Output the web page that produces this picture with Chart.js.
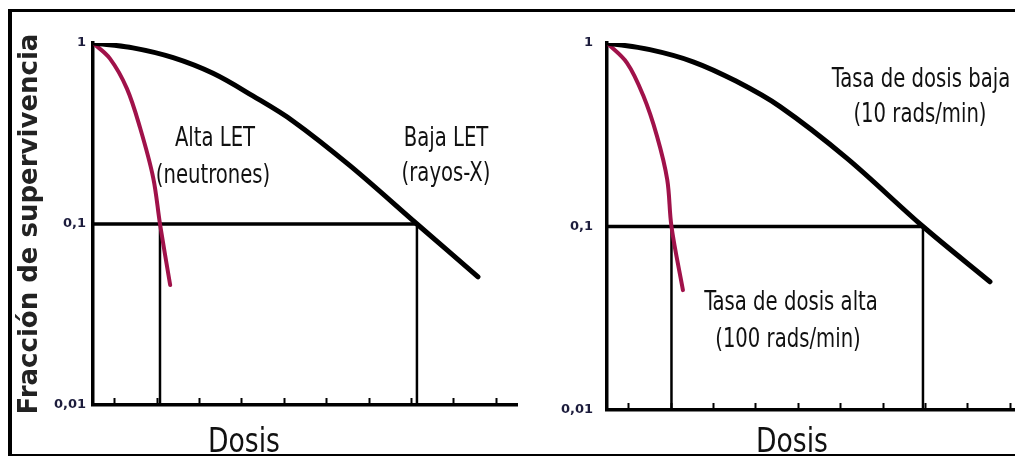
<!DOCTYPE html>
<html>
<head>
<meta charset="utf-8">
<title>Curvas de supervivencia</title>
<script src="https://cdn.jsdelivr.net/npm/chart.js@4.4.1/dist/chart.umd.min.js"></script>
<style>
    body { margin: 0; background: #fff; width: 1015px; height: 457px; overflow: hidden; position: relative; }
    .panel { position: absolute; top: 0; height: 457px; }
    #panel-let { left: 0; width: 540px; }
    #panel-rate { left: 540px; width: 475px; }
    #frame {
        position: absolute; left: 8px; top: 9px; right: 0; bottom: 1px;
        border-left: 4px solid #000; border-top: 3px solid #000; border-bottom: 2px solid #000;
        z-index: 5; pointer-events: none;
    }
    .note {
        position: absolute; z-index: 4; white-space: nowrap; color: #111;
        font-family: 'DejaVu Sans Condensed', 'DejaVu Sans', sans-serif; font-size: 26px;
        transform: translate(-50%, -50%) scaleX(0.84);
    }
    .axis-name { font-size: 34px; transform: translate(-50%, -50%) scaleX(0.87); }
</style>
</head>
<body>
<div id="frame"></div>
<div class="panel" id="panel-let"><canvas id="let-chart" width="540" height="457"></canvas></div>
<div class="panel" id="panel-rate"><canvas id="rate-chart" width="475" height="457"></canvas></div>

<div class="note" style="left:215px; top:137px;">Alta LET</div>
<div class="note" style="left:213px; top:174px;">(neutrones)</div>
<div class="note" style="left:446px; top:137px;">Baja LET</div>
<div class="note" style="left:446px; top:172px;">(rayos-X)</div>
<div class="note" style="left:921px; top:78px;">Tasa de dosis baja</div>
<div class="note" style="left:920px; top:113px;">(10 rads/min)</div>
<div class="note" style="left:791px; top:301px;">Tasa de dosis alta</div>
<div class="note" style="left:788px; top:338px;">(100 rads/min)</div>
<div class="note axis-name" style="left:244px; top:440px;">Dosis</div>
<div class="note axis-name" style="left:792px; top:440px;">Dosis</div>

<script>
// Axis ticks
const doseTicks = [0, 1, 2, 3, 4, 5, 6, 7, 8, 9];
const survivalTicks = [0.01, 0.1, 1];
const survivalTickLabels = ['0,01', '0,1', '1'];

// Left panel - low LET (x-rays) vs high LET (neutrons)
const lowLetDose = [-0.5, 0.44, 1.39, 2.33, 3.27, 4.22, 5.56, 7.14, 8.58];
const lowLetSurvival = [1, 0.94, 0.83, 0.68, 0.51, 0.37, 0.21, 0.1, 0.051];
const highLetDose = [-0.5, -0.1, 0.3, 0.61, 0.92, 1.08, 1.32];
const highLetSurvival = [1, 0.82, 0.56, 0.34, 0.18, 0.1, 0.046];
const letD10 = [1.08, 7.14];

// Right panel - low dose rate vs high dose rate
const lowRateDose = [-0.5, 0.51, 1.53, 2.54, 3.58, 5.16, 6.95, 8.53];
const lowRateSurvival = [1, 0.92, 0.79, 0.62, 0.45, 0.235, 0.1, 0.05];
const highRateDose = [-0.5, -0.03, 0.35, 0.68, 0.92, 1.02, 1.29];
const highRateSurvival = [1, 0.78, 0.52, 0.31, 0.18, 0.1, 0.045];
const rateD10 = [1.02, 6.95];

const CRIMSON = '#a0124a';

// Zip x/y arrays into points
function toPoints(xs, ys) {
    return xs.map((x, i) => ({ x: x, y: ys[i] }));
}

function curve(xs, ys, color, width) {
    return {
        data: toPoints(xs, ys),
        borderColor: color,
        borderWidth: width,
        borderCapStyle: 'round',
        pointRadius: 0,
        tension: 0.35
    };
}

function guide(points, width) {
    return {
        data: points.map(p => ({ x: p[0], y: p[1] })),
        borderColor: '#000',
        borderWidth: width,
        pointRadius: 0,
        tension: 0
    };
}

// Small tick marks pointing up from the dose axis
const innerTicks = {
    id: 'innerTicks',
    afterDatasetsDraw(chart) {
        const scale = chart.scales.x;
        const base = chart.chartArea.bottom;
        const ctx = chart.ctx;
        ctx.save();
        ctx.strokeStyle = '#000';
        ctx.lineWidth = 2;
        doseTicks.forEach(v => {
            if (v > scale.max) return;
            const px = Math.round(scale.getPixelForValue(v)) + 0.5;
            ctx.beginPath();
            ctx.moveTo(px, base);
            ctx.lineTo(px, base - 7);
            ctx.stroke();
        });
        ctx.restore();
    }
};

function buildPanel(canvasId, cfg) {
    return new Chart(document.getElementById(canvasId), {
        type: 'line',
        data: {
            datasets: [
                curve(cfg.lowDose, cfg.lowSurvival, '#000', 5),
                curve(cfg.highDose, cfg.highSurvival, CRIMSON, 4),
                guide([[-0.5, 0.1], [cfg.d10[1], 0.1]], 3.5),
                guide([[cfg.d10[0], 0.01], [cfg.d10[0], 0.1]], 2.5),
                guide([[cfg.d10[1], 0.01], [cfg.d10[1], 0.1]], 2.5)
            ]
        },
        options: {
            responsive: false,
            animation: false,
            devicePixelRatio: 1,
            layout: { padding: { top: 43, right: cfg.padRight, bottom: 0, left: 0 } },
            plugins: { legend: { display: false }, tooltip: { enabled: false } },
            scales: {
                x: {
                    type: 'linear',
                    min: -0.5,
                    max: cfg.doseMax,
                    grid: { display: false, drawTicks: false },
                    border: { display: true, color: '#000', width: 3.5 },
                    ticks: { display: false },
                    afterFit: s => { s.height = cfg.xHeight; }
                },
                y: {
                    type: 'logarithmic',
                    min: 0.01,
                    max: 1,
                    grid: { display: false, drawTicks: false },
                    border: { display: true, color: '#000', width: 3.5 },
                    afterBuildTicks: s => { s.ticks = survivalTicks.map(v => ({ value: v })); },
                    ticks: {
                        padding: cfg.tickPad,
                        color: '#1c1c3c',
                        font: { family: 'DejaVu Sans', size: 13, weight: 'bold' },
                        callback: v => survivalTickLabels[survivalTicks.indexOf(v)] || ''
                    },
                    title: {
                        display: cfg.showTitle,
                        text: 'Fracción de supervivencia',
                        color: '#222',
                        padding: { top: 15, bottom: 0 },
                        font: { family: 'DejaVu Sans', size: 26, weight: 'bold' }
                    },
                    afterFit: s => { s.width = cfg.yWidth; }
                }
            }
        },
        plugins: [innerTicks]
    });
}

buildPanel('let-chart', {
    lowDose: lowLetDose, lowSurvival: lowLetSurvival,
    highDose: highLetDose, highSurvival: highLetSurvival,
    d10: letD10, doseMax: 9.5,
    padRight: 23, xHeight: 52, yWidth: 93, tickPad: 7, showTitle: true
});

buildPanel('rate-chart', {
    lowDose: lowRateDose, lowSurvival: lowRateSurvival,
    highDose: highRateDose, highSurvival: highRateSurvival,
    d10: rateD10, doseMax: 9.12,
    padRight: 0, xHeight: 47, yWidth: 67, tickPad: 14, showTitle: false
});
</script>
</body>
</html>
